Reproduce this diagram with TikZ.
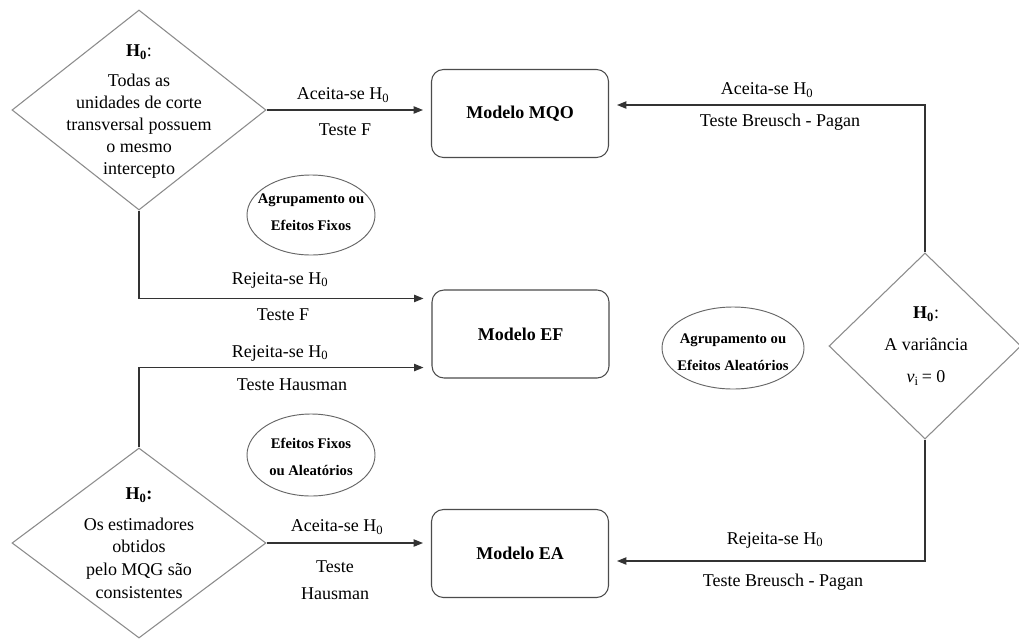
\documentclass[tikz,border=0pt]{standalone}
\usepackage{fontspec}
\setmainfont{Liberation Serif}
\usetikzlibrary{shapes.geometric,arrows.meta}
\newcommand{\Hz}{H\textsubscript{0}}
\begin{document}
\begin{tikzpicture}[x=0.75pt,y=-0.75pt,
  dia/.style={draw=black!45, diamond, inner sep=0pt, line width=0.8pt},
  modelbox/.style={draw=black!70, rounded corners=9pt, minimum width=132.75pt, minimum height=66pt, font=\fontsize{13.5}{16}\selectfont\bfseries, line width=0.8pt},
  oval/.style={draw=black!60, ellipse, inner sep=0pt, line width=0.7pt},
  ovaltext/.style={inner sep=0pt, align=center, font=\fontsize{11}{20}\selectfont\bfseries},
  lbl/.style={font=\fontsize{13.5}{17}\selectfont, inner sep=0pt, align=center},
  arr/.style={draw=black!80, line width=0.8pt, shorten >=6pt, -{Triangle[length=7pt,width=5.5pt]}}]
\fill[white] (0,0) rectangle (1019,639);
\useasboundingbox (0,0) rectangle (1019,639);

% diamonds
\node[dia, minimum width=190.5pt, minimum height=150pt] (d1) at (139,110) {};
\node[dia, minimum width=190.5pt, minimum height=142.5pt] (d3) at (139,543) {};
\node[dia, minimum width=144pt, minimum height=139.5pt] (d2) at (925,346) {};

\node[lbl, font=\fontsize{13.5}{16.5}\selectfont] (d1t) at (139,112) {\textbf{\Hz}:\\[6pt] Todas as\\ unidades de corte\\ transversal possuem\\ o mesmo\\ intercepto};
\node[lbl, font=\fontsize{13.5}{17}\selectfont] (d3t) at (139,543) {\textbf{H\textsubscript{0}:}\\[6pt] Os estimadores\\ obtidos\\ pelo MQG são\\ consistentes};
\node[lbl, font=\fontsize{13.5}{24}\selectfont] (d2t) at (926,346) {\textbf{\Hz}:\\ A variância\\ \textit{v}\textsubscript{i}\,= 0};

% model boxes
\node[modelbox] (mqo) at (520,113.5) {Modelo MQO};
\node[modelbox] (ef) at (520.5,334) {Modelo EF};
\node[modelbox] (ea) at (520,553.5) {Modelo EA};

% ellipses
\node[oval, minimum width=96pt, minimum height=60pt] (e1) at (311,215) {};
\node[ovaltext] (e1t) at (311,212) {Agrupamento ou\\Efeitos Fixos};
\node[oval, minimum width=96pt, minimum height=61.5pt] (e2) at (311,455) {};
\node[ovaltext] (e2t) at (311,457) {Efeitos Fixos\\ou Aleatórios};
\node[oval, minimum width=106.5pt, minimum height=61.5pt] (e3) at (733,348) {};
\node[ovaltext] (e3t) at (733,352) {Agrupamento ou\\Efeitos Aleatórios};

% connectors
\draw[arr] (d1.east) -- (d1.east -| mqo.west);
\draw[arr] (d1.south) |- ([yshift=-6.75pt]ef.north west);
\draw[arr] (d3.north) |- ([yshift=8.25pt]ef.south west);
\draw[arr] (d3.east) -- (d3.east -| ea.west);
\draw[arr] (d2.north) |- ([yshift=6.375pt]mqo.east);
\draw[arr] (d2.south) |- ([yshift=-5.625pt]ea.east);

% labels
\node[lbl] (l1a) at (343,95) {Aceita-se \Hz};
\node[lbl] (l1b) at (345,130) {Teste F};
\node[lbl] (l2a) at (280,280) {Rejeita-se \Hz};
\node[lbl] (l2b) at (283,315) {Teste F};
\node[lbl] (l3a) at (280,353) {Rejeita-se \Hz};
\node[lbl] (l3b) at (292,385) {Teste Hausman};
\node[lbl] (l4a) at (337,527) {Aceita-se \Hz};
\node[lbl, font=\fontsize{13.5}{20}\selectfont] (l4b) at (335,580) {Teste\\Hausman};
\node[lbl] (l5a) at (767,90) {Aceita-se \Hz};
\node[lbl] (l5b) at (780,122) {Teste Breusch - Pagan};
\node[lbl] (l6a) at (775,540) {Rejeita-se \Hz};
\node[lbl] (l6b) at (783,582) {Teste Breusch - Pagan};
\end{tikzpicture}
\end{document}
